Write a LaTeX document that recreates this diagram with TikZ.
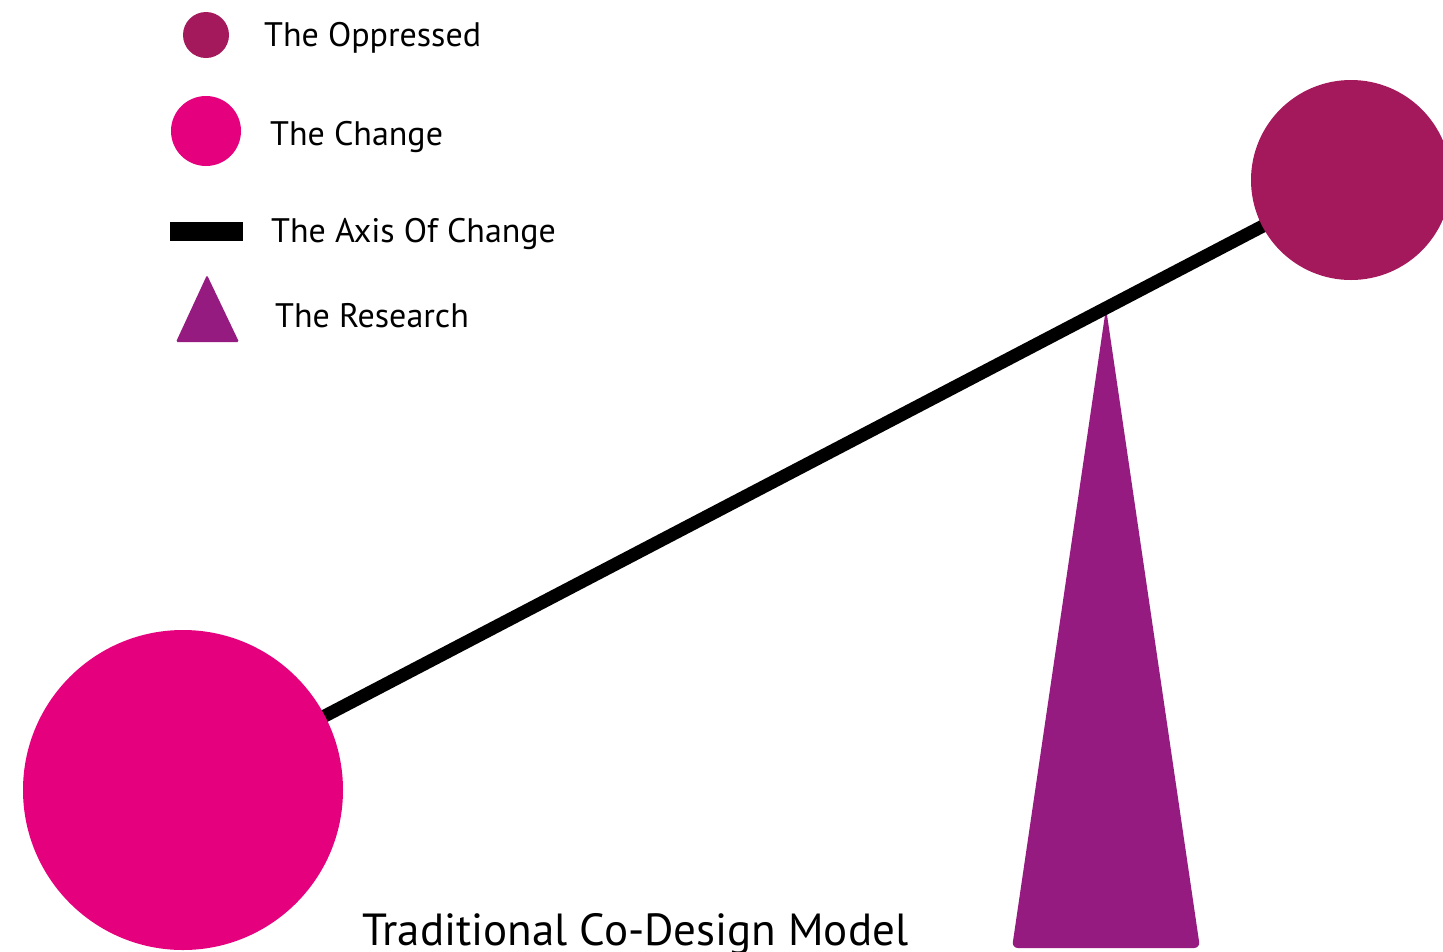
\documentclass[tikz,border=0pt]{standalone}
\usepackage{fontspec}
\setmainfont{PT Sans}
\usetikzlibrary{backgrounds}
\definecolor{oppressed}{HTML}{A3195B}
\definecolor{change}{HTML}{E5007D}
\definecolor{research}{HTML}{951B80}
\tikzset{
  lbl/.style={anchor=base west, inner sep=0pt, font=\fontsize{34}{40}\selectfont},
  dot/.style={circle, inner sep=0pt, minimum size=#1},
  axis/.style={line width=13pt, black},
}
\begin{document}
\begin{tikzpicture}[x=1pt,y=-1pt]
\useasboundingbox (0,0) rectangle (1443,951);
\clip (0,0) rectangle (1443,951);
% legend
\node[dot=46pt, fill=oppressed] (lo) at (206,35) {};
\node[dot=70pt, fill=change] (lc) at (206,131) {};
\fill[black] (170,222) rectangle (243,241);
\fill[research, rounded corners=1.5pt] (207,275) -- (239,342) -- (176,342) -- cycle;
\node[lbl] (to) at (264,46) {The Oppressed};
\node[lbl] (tc) at (270,145) {The Change};
\node[lbl] (ta) at (271,242) {The Axis Of Change};
\node[lbl] (tr) at (275,327) {The Research};
% main
\node[dot=320pt, fill=change] (big) at (183,790) {};
\node[dot=200pt, fill=oppressed] (top) at (1351,180) {};
\begin{pgfonlayer}{background}
\fill[research, rounded corners=6pt] (1106,308) -- (1200,948) -- (1012,948) -- cycle;
\draw[axis] (big.center) -- (top.center);
\end{pgfonlayer}
\node[anchor=base west, inner sep=0pt, font=\fontsize{45}{52}\selectfont] (title) at (362,945) {Traditional Co-Design Model};
\end{tikzpicture}
\end{document}
